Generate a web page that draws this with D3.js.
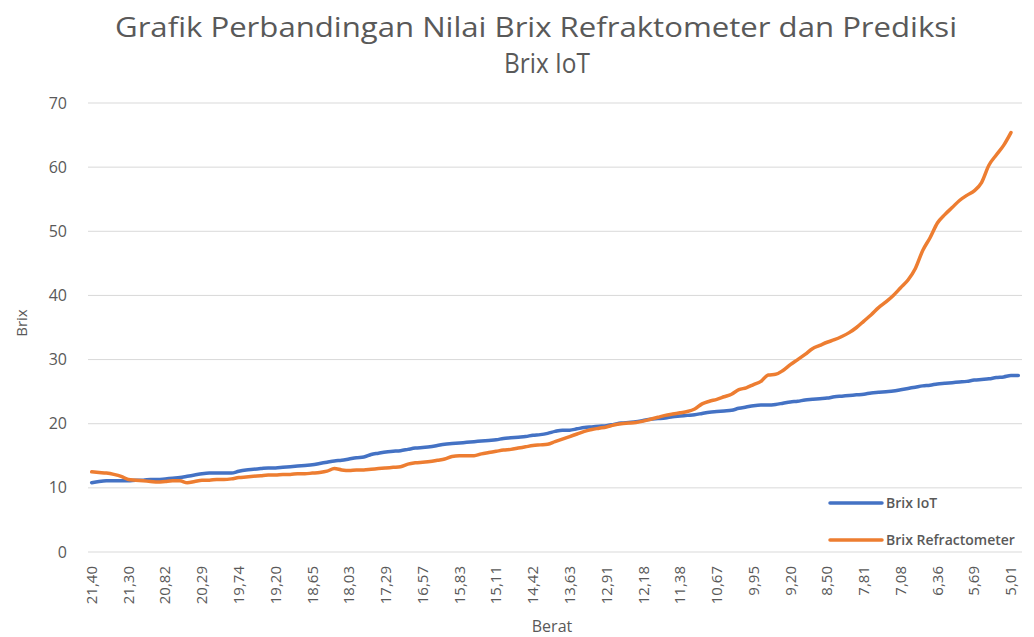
<!DOCTYPE html>
<html>
<head>
<meta charset="utf-8">
<script src="https://cdn.jsdelivr.net/npm/d3@7"></script>
<style>
  body { margin: 0; background: #fff; }
  svg text { font-family: "Open Sans", "Liberation Sans", sans-serif; fill: #595959; }
</style>
</head>
<body>
<svg id="chart"></svg>
<script>
const width = 1034;
const height = 637;

// Category labels shown on the x-axis (every 5th weight value)
const tickLabels = [
  "21,40", "21,30", "20,82", "20,29", "19,74", "19,20", "18,65", "18,03", "17,29",
  "16,57", "15,83", "15,11", "14,42", "13,63", "12,91", "12,18", "11,38", "10,67",
  "9,95", "9,20", "8,50", "7,81", "7,08", "6,36", "5,69", "5,01"
];

const yTicks = [0, 10, 20, 30, 40, 50, 60, 70];

// Brix IoT prediction, one value per sample
const brixIoT = [
  10.8, 11.0, 11.1, 11.1, 11.1, 11.1, 11.2, 11.2, 11.3, 11.3, 11.4, 11.5, 11.6,
  11.8, 12.0, 12.2, 12.3, 12.3, 12.3, 12.3, 12.6, 12.8, 12.9, 13.0, 13.1, 13.1,
  13.2, 13.3, 13.4, 13.5, 13.6, 13.8, 14.0, 14.2, 14.3, 14.5, 14.7, 14.8,
  15.2, 15.4, 15.6, 15.7, 15.8, 16.0, 16.2, 16.3, 16.4, 16.6, 16.8, 16.9, 17.0,
  17.1, 17.2, 17.3, 17.4, 17.5, 17.7, 17.8, 17.9, 18.0, 18.2, 18.3, 18.5,
  18.8, 19.0, 19.0, 19.2, 19.4, 19.5, 19.6, 19.7, 19.9, 20.1, 20.2, 20.3, 20.5,
  20.7, 20.8, 20.9, 21.1, 21.2, 21.3, 21.4, 21.6, 21.8, 21.9, 22.0, 22.1,
  22.4, 22.6, 22.8, 22.9, 22.9, 23.0, 23.2, 23.4, 23.5, 23.7, 23.8, 23.9, 24.0,
  24.2, 24.3, 24.4, 24.5, 24.6, 24.8, 24.9, 25.0, 25.1, 25.3, 25.5, 25.7,
  25.9, 26.0, 26.2, 26.3, 26.4, 26.5, 26.6, 26.8, 26.9, 27.0, 27.2, 27.3, 27.5,
  27.5
];

// Brix measured with the refractometer
const brixRefractometer = [
  12.5, 12.4, 12.3, 12.1, 11.8, 11.3, 11.2, 11.1, 11.0, 10.9, 11.0, 11.1, 11.1,
  10.8, 11.0, 11.2, 11.2, 11.3, 11.3, 11.4, 11.6, 11.7, 11.8, 11.9, 12.0, 12.0,
  12.1, 12.1, 12.2, 12.2, 12.3, 12.4, 12.6, 13.0, 12.8, 12.7, 12.8, 12.8,
  12.9, 13.0, 13.1, 13.2, 13.3, 13.7, 13.9, 14.0, 14.1, 14.3, 14.5, 14.9, 15.0,
  15.0, 15.0, 15.3, 15.5, 15.7, 15.9, 16.0, 16.2, 16.4, 16.6, 16.7, 16.8,
  17.2, 17.6, 18.0, 18.4, 18.8, 19.1, 19.3, 19.5, 19.8, 20.0, 20.1, 20.2, 20.4,
  20.7, 21.0, 21.3, 21.5, 21.7, 21.9, 22.3, 23.1, 23.5, 23.8, 24.2, 24.6,
  25.3, 25.6, 26.1, 26.6, 27.6, 27.7, 28.3, 29.2, 30.0, 30.8, 31.7, 32.2, 32.7,
  33.1, 33.6, 34.2, 35.0, 36.0, 37.0, 38.1, 39.0, 40.0, 41.2, 42.4, 44.2,
  47.0, 49.0, 51.3, 52.6, 53.7, 54.8, 55.6, 56.3, 57.6, 60.3, 61.9, 63.4, 65.4
];

const seriesNames = ["Brix IoT", "Brix Refractometer"];
const seriesColors = ["#4472C4", "#ED7D31"];

const plot = { left: 88, right: 1022, top: 103, bottom: 552 };

const svg = d3.select("#chart").attr("width", width).attr("height", height);

const x = d3.scaleBand()
  .domain(d3.range(brixIoT.length))
  .range([plot.left, plot.right]);
const y = d3.scaleLinear().domain([0, 70]).range([plot.bottom, plot.top]);
const cx = (i) => x(i) + x.bandwidth() / 2;

// Gridlines
svg.append("g")
  .selectAll("line")
  .data(yTicks)
  .join("line")
  .attr("x1", plot.left)
  .attr("x2", plot.right)
  .attr("y1", (d) => y(d))
  .attr("y2", (d) => y(d))
  .attr("stroke", "#d9d9d9")
  .attr("stroke-width", 1);

// Y axis labels
const yAxis = d3.axisLeft(y).tickValues(yTicks).tickSize(0).tickPadding(21);
svg.append("g")
  .attr("transform", `translate(${plot.left}, 0)`)
  .call(yAxis)
  .call((g) => g.select(".domain").remove())
  .selectAll("text")
  .style("font-size", "16px")
  .style("font-family", "Open Sans, sans-serif")
  .attr("fill", "#595959");

// X axis labels (rotated)
const xAxis = d3.axisBottom(x)
  .tickValues(d3.range(0, brixIoT.length, 5))
  .tickSize(0)
  .tickFormat((d, i) => tickLabels[i]);
svg.append("g")
  .attr("transform", `translate(0, ${plot.bottom})`)
  .call(xAxis)
  .call((g) => g.select(".domain").remove())
  .selectAll("text")
  .style("font-size", "15px")
  .style("font-family", "Open Sans, sans-serif")
  .attr("fill", "#595959")
  .attr("text-anchor", "end")
  .attr("dy", "0.35em")
  .attr("transform", "translate(0, 14) rotate(-90)")
  .attr("x", 0)
  .attr("y", 0);

// Lines
const line = d3.line()
  .x((d, i) => cx(i))
  .y((d) => y(d))
  .curve(d3.curveMonotoneX);

[brixIoT, brixRefractometer].forEach((values, k) => {
  svg.append("path")
    .datum(values)
    .attr("fill", "none")
    .attr("stroke", seriesColors[k])
    .attr("stroke-width", 3.5)
    .attr("stroke-linecap", "round")
    .attr("stroke-linejoin", "round")
    .attr("d", line);
});

// Title
const title = svg.append("g");
title.append("text")
  .attr("x", 536)
  .attr("y", 37)
  .attr("text-anchor", "middle")
  .attr("textLength", 842)
  .attr("lengthAdjust", "spacingAndGlyphs")
  .style("font-size", "27px")
  .text("Grafik Perbandingan Nilai Brix Refraktometer dan Prediksi");
title.append("text")
  .attr("x", 547)
  .attr("y", 73)
  .attr("text-anchor", "middle")
  .attr("textLength", 86)
  .attr("lengthAdjust", "spacingAndGlyphs")
  .style("font-size", "27px")
  .text("Brix IoT");

// Axis titles
svg.append("text")
  .attr("transform", "translate(27, 323) rotate(-90)")
  .attr("text-anchor", "middle")
  .style("font-size", "15px")
  .text("Brix");

svg.append("text")
  .attr("x", 552)
  .attr("y", 632)
  .attr("text-anchor", "middle")
  .style("font-size", "16px")
  .text("Berat");

// Legend
const legend = svg.append("g")
  .selectAll("g")
  .data(seriesNames)
  .join("g")
  .attr("transform", (d, i) => `translate(830, ${503 + i * 37})`);

legend.append("line")
  .attr("x1", 0)
  .attr("x2", 52)
  .attr("stroke", (d, i) => seriesColors[i])
  .attr("stroke-width", 3.5)
  .attr("stroke-linecap", "round");

legend.append("text")
  .attr("x", 56)
  .attr("dy", "0.35em")
  .style("font-size", "14px")
  .style("font-weight", "600")
  .text((d) => d);
</script>
</body>
</html>
